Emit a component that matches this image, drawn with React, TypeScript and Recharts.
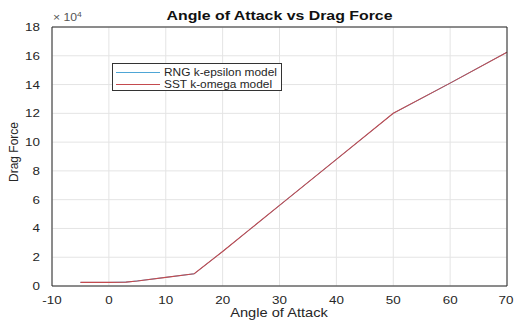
import { LineChart, Line, XAxis, YAxis, CartesianGrid } from "recharts";

const angles = [-5, 0, 3, 5, 10, 15, 20, 25, 30, 40, 50, 60, 70];
const rngKEpsilon = [2500, 2500, 2700, 3500, 6000, 8500, 24000, 40000, 56000, 88000, 120000, 141000, 162500];
const sstKOmega = [2500, 2500, 2700, 3500, 6000, 8500, 24000, 40000, 56000, 88000, 120000, 141000, 162500];
const xTicks = [-10, 0, 10, 20, 30, 40, 50, 60, 70];
const yTicks = [0, 20000, 40000, 60000, 80000, 100000, 120000, 140000, 160000, 180000];

const data = angles.map((a, i) => ({ angle: a, rng: rngKEpsilon[i], sst: sstKOmega[i] }));

const FONT = "'Liberation Sans', Arial, sans-serif";
const TEXT = "#262626";
const BLUE = "#4ea6d6";
const RED = "#c44a4e";
const SX = 1.22; // the picture is stretched sideways

const series = [
  { name: "RNG k-epsilon model", color: BLUE },
  { name: "SST k-omega model", color: RED },
];

const XTick = (p: any) => (
  <text transform={`translate(${p.x},${p.y + 10}) scale(${SX},1)`} textAnchor="middle" fill={TEXT} fontSize={11} fontFamily={FONT}>
    {p.payload.value}
  </text>
);

const YTick = (p: any) => (
  <text transform={`translate(${p.x - 4},${p.y + 4}) scale(${SX},1)`} textAnchor="end" fill={TEXT} fontSize={11} fontFamily={FONT}>
    {p.payload.value / 10000}
  </text>
);

export default function App() {
  return (
    <div style={{ position: "absolute", left: 0, top: 0, width: 514, height: 322, background: "#fff", fontFamily: FONT }}>
      <LineChart width={514} height={322} data={data} margin={{ top: 26, right: 6, bottom: 0, left: 0 }}>
        <CartesianGrid stroke="#e4e4e4" strokeWidth={1} />
        <XAxis
          dataKey="angle"
          type="number"
          domain={[-10, 70]}
          ticks={xTicks}
          height={36}
          stroke={TEXT}
          tickLine={false}
          tick={<XTick />}
          label={{
            content: () => (
              <text transform={`translate(279,317) scale(${SX},1)`} textAnchor="middle" fill={TEXT} fontSize={12} fontFamily={FONT}>
                Angle of Attack
              </text>
            ),
          }}
        />
        <XAxis xAxisId="top" orientation="top" dataKey="angle" type="number" domain={[-10, 70]} ticks={xTicks} height={1} tick={false} tickLine={false} stroke={TEXT} />
        <YAxis
          type="number"
          domain={[0, 180000]}
          ticks={yTicks}
          width={52}
          stroke={TEXT}
          tickLine={false}
          tick={<YTick />}
          label={{
            content: () => (
              <text x={18} y={152} transform="rotate(-90 18 152)" textAnchor="middle" fill={TEXT} fontSize={12} fontFamily={FONT}>
                Drag Force
              </text>
            ),
          }}
        />
        <YAxis yAxisId="right" orientation="right" domain={[0, 180000]} ticks={yTicks} width={1} tick={false} tickLine={false} stroke={TEXT} />
        <Line dataKey="rng" name="RNG k-epsilon model" stroke={BLUE} strokeWidth={1} dot={false} isAnimationActive={false} />
        <Line dataKey="sst" name="SST k-omega model" stroke={RED} strokeWidth={1.1} dot={false} isAnimationActive={false} />
      </LineChart>
      <div style={{ position: "absolute", left: 52, width: 455, top: 8, textAlign: "center", fontWeight: "bold", fontSize: 13, color: "#111", transform: `scaleX(${SX})` }}>
        Angle of Attack vs Drag Force
      </div>
      <div style={{ position: "absolute", left: 53, top: 11, fontSize: 10, color: "#555", transform: `scaleX(${SX})`, transformOrigin: "left" }}>
        × 10<sup style={{ fontSize: 7 }}>4</sup>
      </div>
      <div
        style={{
          position: "absolute",
          left: 112,
          top: 63,
          width: 170,
          height: 28,
          border: "1px solid #333",
          background: "#fff",
          fontSize: 11,
          color: TEXT,
          lineHeight: "12px",
          boxSizing: "border-box",
          paddingTop: 2,
        }}
      >
        {series.map((it) => (
          <div key={it.name} style={{ display: "flex", alignItems: "center", height: 12 }}>
            <span style={{ display: "inline-block", width: 44, marginLeft: 3, borderTop: `1px solid ${it.color}`, marginRight: 4 }} />
            <span style={{ display: "inline-block", transform: "scaleX(1.08)", transformOrigin: "left", whiteSpace: "nowrap" }}>{it.name}</span>
          </div>
        ))}
      </div>
    </div>
  );
}
